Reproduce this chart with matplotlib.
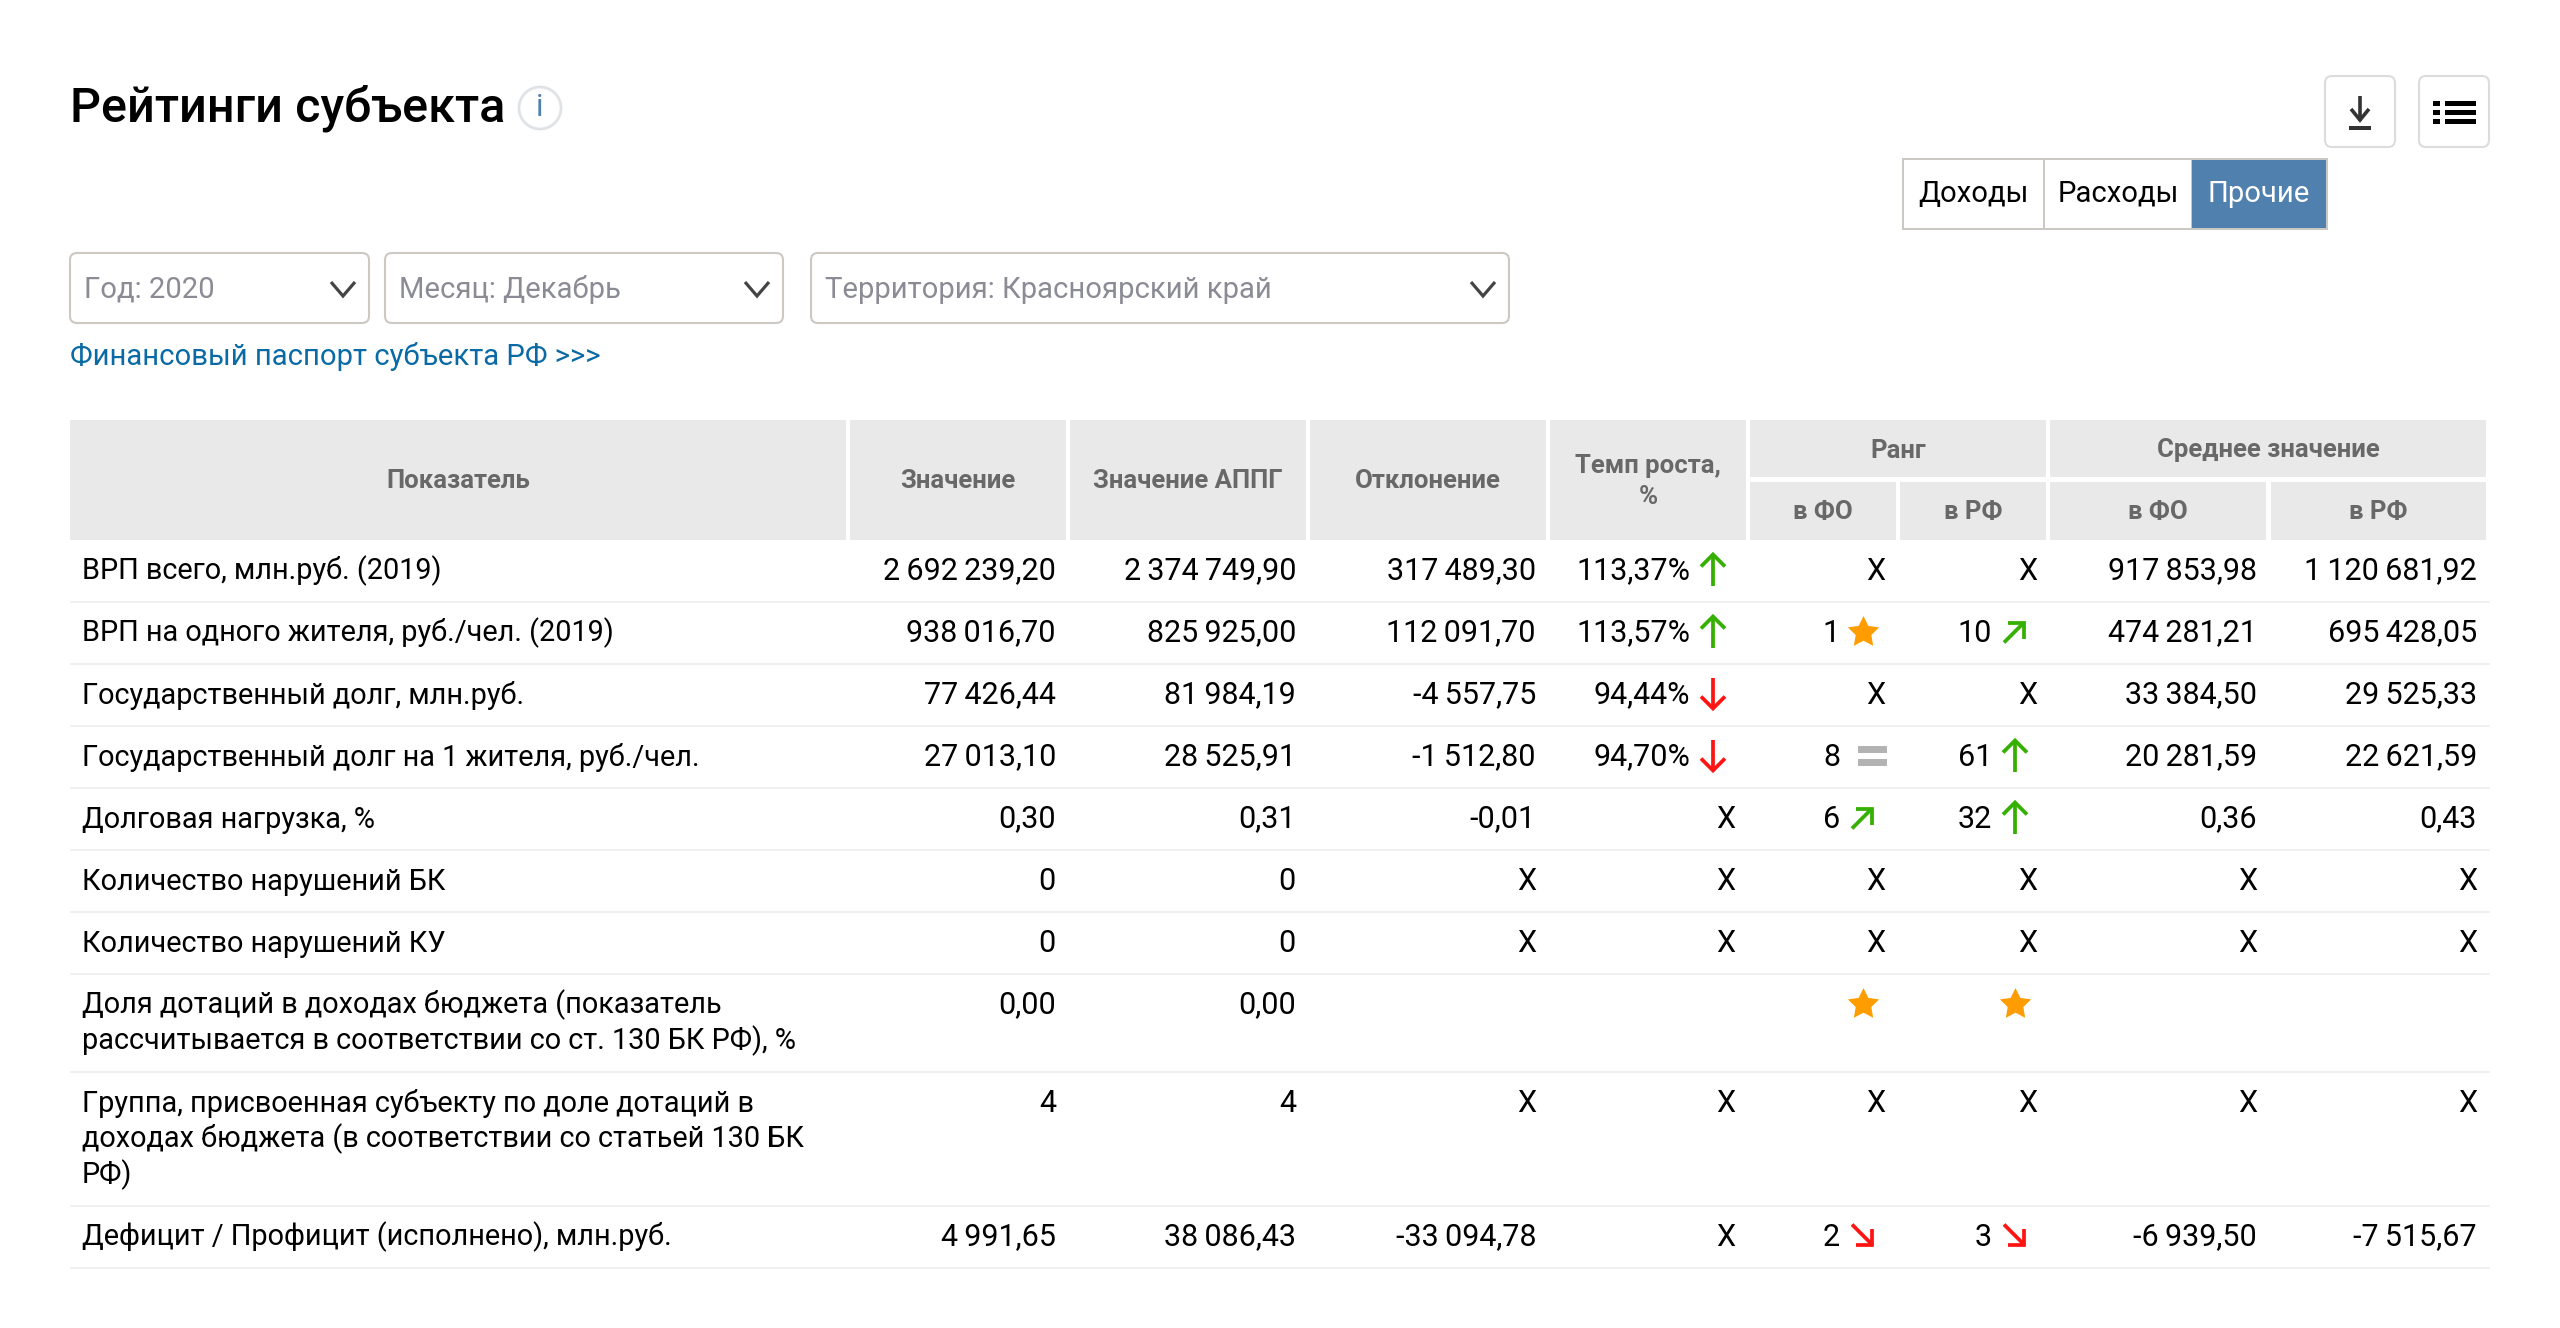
import matplotlib
matplotlib.use('Agg')
import matplotlib.pyplot as plt
from matplotlib.patches import Rectangle, FancyBboxPatch, Circle
from matplotlib.path import Path

plt.rcParams['font.family'] = ['Roboto', 'DejaVu Sans']

title = 'Рейтинги субъекта'
tabs = ['Доходы', 'Расходы', 'Прочие']
selects = ['Год: 2020', 'Месяц: Декабрь', 'Территория: Красноярский край']
link = 'Финансовый паспорт субъекта РФ >>>'

labels = ['ВРП всего, млн.руб. (2019)',
          'ВРП на одного жителя, руб./чел. (2019)',
          'Государственный долг, млн.руб.',
          'Государственный долг на 1 жителя, руб./чел.',
          'Долговая нагрузка, %',
          'Количество нарушений БК',
          'Количество нарушений КУ',
          'Доля дотаций в доходах бюджета (показатель\nрассчитывается в соответствии со ст. 130 БК РФ), %',
          'Группа, присвоенная субъекту по доле дотаций в\nдоходах бюджета (в соответствии со статьей 130 БК\nРФ)',
          'Дефицит / Профицит (исполнено), млн.руб.']
value = ['2 692 239,20', '938 016,70', '77 426,44', '27 013,10', '0,30', '0', '0', '0,00', '4', '4 991,65']
value_prev = ['2 374 749,90', '825 925,00', '81 984,19', '28 525,91', '0,31', '0', '0', '0,00', '4', '38 086,43']
deviation = ['317 489,30', '112 091,70', '-4 557,75', '-1 512,80', '-0,01', 'X', 'X', '', 'X', '-33 094,78']
growth = ['113,37%', '113,57%', '94,44%', '94,70%', 'X', 'X', 'X', '', 'X', 'X']
growth_mark = ['up', 'up', 'down', 'down', '', '', '', '', '', '']
rank_fo = ['X', '1', 'X', '8', '6', 'X', 'X', '', 'X', '2']
rank_fo_mark = ['', 'star', '', 'eq', 'ne', '', '', 'star', '', 'se']
rank_rf = ['X', '10', 'X', '61', '32', 'X', 'X', '', 'X', '3']
rank_rf_mark = ['', 'ne', '', 'up', 'up', '', '', 'star', '', 'se']
mean_fo = ['917 853,98', '474 281,21', '33 384,50', '20 281,59', '0,36', 'X', 'X', '', 'X', '-6 939,50']
mean_rf = ['1 120 681,92', '695 428,05', '29 525,33', '22 621,59', '0,43', 'X', 'X', '', 'X', '-7 515,67']

GREEN = '#35b000'
RED = '#ff1414'
HEAD = '#e9e9e9'
HEAD_TXT = '#686868'
BODY = 22.0
LABEL = 20.8
UI = 21.1

fig = plt.figure(figsize=(25.6, 13.28), dpi=100)
ax = fig.add_axes([0, 0, 1, 1])
ax.set_xlim(0, 2560)
ax.set_ylim(1328, 0)
ax.axis('off')

star = Path.unit_regular_star(5, innerCircle=0.5)


def rect(x0, y0, x1, y1, color):
    ax.add_patch(Rectangle((x0, y0), x1 - x0, y1 - y0, fc=color, ec='none'))


def box(x0, y0, x1, y1, ec='#cdc8c2', lw=1.5, r=7):
    ax.add_patch(FancyBboxPatch((x0 + r, y0 + r), x1 - x0 - 2 * r, y1 - y0 - 2 * r,
                                boxstyle='round,pad=%g,rounding_size=%g' % (r, r),
                                fc='white', ec=ec, lw=lw))


def line(xs, ys, color, lw=2.7):
    ax.plot(xs, ys, color=color, lw=lw, solid_capstyle='butt', solid_joinstyle='miter')


def chevron(x, y):
    line([x - 12, x, x + 12], [y - 7, y + 7, y - 7], '#444444', 2.3)


def mark(kind, x, y):
    if kind == 'up':
        line([x, x], [y + 16, y - 14], GREEN)
        line([x - 12, x, x + 12], [y - 3, y - 15, y - 3], GREEN)
    elif kind == 'down':
        line([x, x], [y - 16, y + 14], RED)
        line([x - 12, x, x + 12], [y + 3, y + 15, y + 3], RED)
    elif kind == 'ne':
        line([x - 11, x + 8], [y + 11, y - 8], GREEN)
        line([x - 7, x + 9, x + 9], [y - 9, y - 9, y + 7], GREEN)
    elif kind == 'se':
        line([x - 11, x + 8], [y - 11, y + 8], RED)
        line([x - 7, x + 9, x + 9], [y + 9, y + 9, y - 7], RED)
    elif kind == 'star':
        ax.scatter([x], [y], marker=star, s=560, color='#ff9d00', linewidths=0, zorder=3)
    elif kind == 'eq':
        rect(x - 5, y - 10, x + 24, y - 3, '#b3b3b3')
        rect(x - 5, y + 3, x + 24, y + 10, '#b3b3b3')


# top of the page
ax.text(70, 122, title, fontsize=35, fontweight='medium', color='black', va='baseline')
ax.add_patch(Circle((540, 108), 21, fc='white', ec='#dfe3e6', lw=2))
ax.text(540, 108, 'i', fontsize=22, color='#5080ae', ha='center', va='center')

box(2325, 76, 2395, 147, ec='#dcdcdc')
box(2419, 76, 2489, 147, ec='#dcdcdc')
line([2360, 2360], [96, 121], '#333333', 2.6)
line([2351, 2360, 2369], [109, 120, 109], '#333333', 2.6)
rect(2349, 126, 2371, 130, '#333333')
for y in [103, 112, 121]:
    rect(2433, y - 2.5, 2440, y + 2.5, 'black')
    rect(2445, y - 2.5, 2476, y + 2.5, 'black')

rect(1902, 158, 2328, 230, '#cbc7c3')
tab_edges = [(1904, 2043), (2045, 2191), (2192, 2326)]
for i, (t, e) in enumerate(zip(tabs, tab_edges)):
    active = i == 2
    rect(e[0], 160, e[1], 228, '#5080ae' if active else 'white')
    ax.text((e[0] + e[1]) / 2, 202, t, fontsize=UI, color='white' if active else 'black',
            ha='center', va='baseline')

sel_edges = [(70, 369), (385, 783), (811, 1509)]
for t, e in zip(selects, sel_edges):
    box(e[0], 253, e[1], 323)
    ax.text(e[0] + 14, 298, t, fontsize=UI, color='#8b8b95', va='baseline')
    chevron(e[1] - 26, 289)

ax.text(70, 365, link, fontsize=UI, color='#0a6aa5', va='baseline')

# table header
rect(70, 420, 846, 540, HEAD)
rect(850, 420, 1066, 540, HEAD)
rect(1070, 420, 1306, 540, HEAD)
rect(1310, 420, 1546, 540, HEAD)
rect(1550, 420, 1746, 540, HEAD)
rect(1750, 420, 2046, 477, HEAD)
rect(2050, 420, 2486, 477, HEAD)
rect(1750, 482, 1896, 540, HEAD)
rect(1900, 482, 2046, 540, HEAD)
rect(2050, 482, 2266, 540, HEAD)
rect(2271, 482, 2486, 540, HEAD)


def head(x, y, t):
    ax.text(x, y, t, fontsize=18.5, fontweight='bold', color=HEAD_TXT, ha='center', va='center_baseline')


head(458, 479, 'Показатель')
head(958, 479, 'Значение')
head(1188, 479, 'Значение АППГ')
head(1428, 479, 'Отклонение')
head(1648, 464, 'Темп роста,')
head(1648, 494, '%')
head(1898, 448, 'Ранг')
head(2268, 448, 'Среднее значение')
head(1823, 510, 'в ФО')
head(1973, 510, 'в РФ')
head(2158, 510, 'в ФО')
head(2378, 510, 'в РФ')

# table body
num_cols = [(value, 1056), (value_prev, 1296), (deviation, 1536), (mean_fo, 2257), (mean_rf, 2477)]
mark_cols = [(growth, growth_mark, 1735), (rank_fo, rank_fo_mark, 1885), (rank_rf, rank_rf_mark, 2037)]

top = 538.5
for i, lab in enumerate(labels):
    lines = lab.split('\n')
    base = top + 41
    for j, s in enumerate(lines):
        ax.text(82, base + 36 * j, s, fontsize=LABEL, color='black', va='baseline')
    for col, right in num_cols:
        ax.text(right, base, col[i].replace(' ', '\u2009'), fontsize=BODY, color='black',
                ha='right', va='baseline')
    for col, marks, right in mark_cols:
        if marks[i]:
            ax.text(right - 45, base, col[i], fontsize=BODY, color='black', ha='right', va='baseline')
            mark(marks[i], right - 22, base - 10)
        else:
            ax.text(right, base, col[i], fontsize=BODY, color='black', ha='right', va='baseline')
    top += 62 + 36 * (len(lines) - 1)
    rect(70, top, 2490, top + 2.2, '#f0f0f0')

fig.savefig('out.png', dpi=100)
